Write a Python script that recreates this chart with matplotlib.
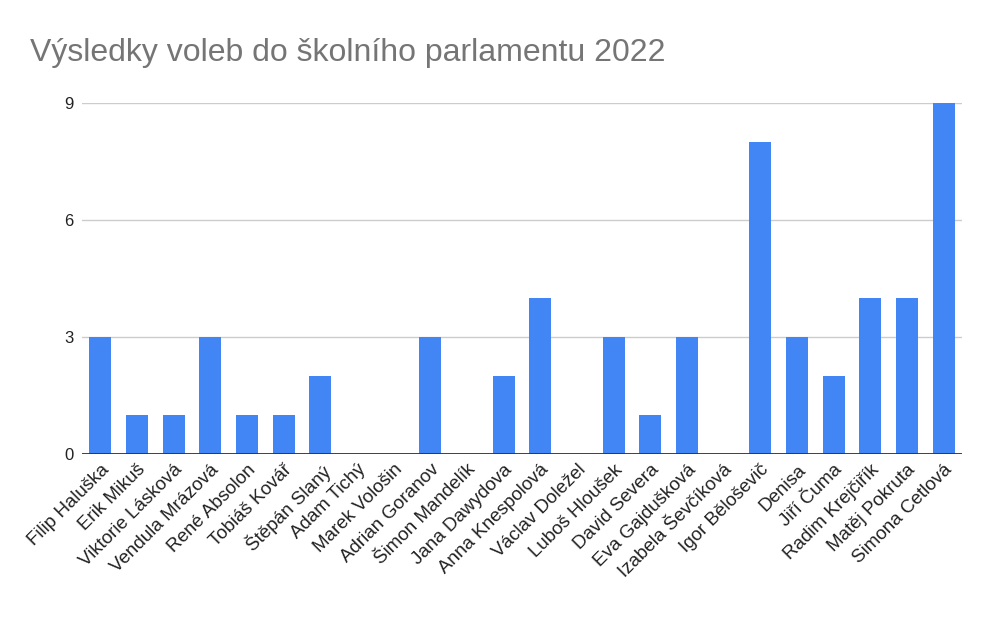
import matplotlib.pyplot as plt

plt.rcParams['font.family'] = ['Liberation Sans', 'DejaVu Sans']

kandidati = ['Filip Haluška', 'Erik Mikuš', 'Viktorie Lásková', 'Vendula Mrázová',
             'René Absolon', 'Tobiáš Kovář', 'Štěpán Slaný', 'Adam Tichý',
             'Marek Vološin', 'Adrian Goranov', 'Šimon Mandelík', 'Jana Dawydova',
             'Anna Knespolová', 'Václav Doležel', 'Luboš Hloušek', 'David Severa',
             'Eva Gajdušková', 'Izabela Ševčíková', 'Igor Běloševič', 'Denisa',
             'Jiří Čuma', 'Radim Krejčiřík', 'Matěj Pokruta', 'Simona Cetlová']
hlasy = [3, 1, 1, 3, 1, 1, 2, 0, 0, 3, 0, 2, 4, 0, 3, 1, 3, 0, 8, 3, 2, 4, 4, 9]

fig = plt.figure(figsize=(10, 6.18), dpi=100)
ax = fig.add_axes([0.082, 0.265, 0.88, 0.568])

x = range(len(kandidati))
ax.bar(x, hlasy, width=0.6, color='#4285f4', zorder=3)

ax.set_xlim(-0.5, len(kandidati) - 0.5)
ax.set_ylim(0, 9)
ax.set_yticks([0, 3, 6, 9])
ax.yaxis.grid(True, color='#cccccc', linewidth=1, zorder=0)
ax.axhline(0, color='#333333', linewidth=1.3, zorder=4)

ax.set_xticks(list(x))
ax.set_xticklabels(kandidati, rotation=45, ha='right', rotation_mode='anchor',
                   fontsize=13.5, color='#222222')
ax.tick_params(axis='x', length=0, pad=5)
ax.tick_params(axis='y', length=0, pad=6, labelsize=12, labelcolor='#222222')

for s in ax.spines.values():
    s.set_visible(False)

fig.text(0.03, 0.915, 'Výsledky voleb do školního parlamentu 2022',
         fontsize=23, color='#757575', va='center', ha='left')

fig.savefig('out.png', dpi=100, facecolor='white')
